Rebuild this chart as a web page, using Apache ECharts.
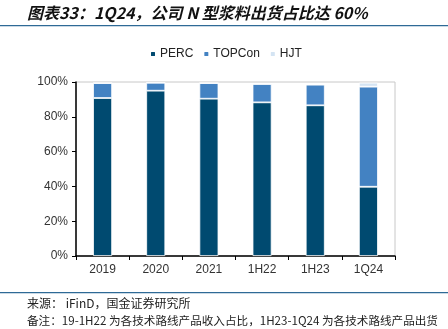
<!DOCTYPE html>
<html><head><meta charset="utf-8">
<script src="https://cdn.jsdelivr.net/npm/echarts@6/dist/echarts.min.js"></script>
<style>html,body{margin:0;padding:0;background:#fff}#c{width:448px;height:329px}</style>
</head><body><div id="c"></div>
<script>
const categories = ['2019','2020','2021','1H22','1H23','1Q24'];
const perc = [90.8, 95.0, 90.4, 88.3, 86.6, 39.8];
const topcon = [8.6, 4.6, 9.0, 10.6, 11.9, 57.5];
const hjt = [0, 0, 0, 0, 0, 2.3];
const yTicks = [0, 20, 40, 60, 80, 100];

const chart = echarts.init(document.getElementById('c'), null, {renderer:'canvas'});
const lab = {fontFamily:'Liberation Sans, Arial, sans-serif', fontSize:12, color:'#333'};
chart.setOption({
  animation:false,
  grid:{left:76, right:53, top:82, bottom:73, show:true, borderColor:'#c8c8c8', borderWidth:1},
  legend:{top:43, left:144, itemWidth:6, itemHeight:6, itemGap:9,
    textStyle:{fontFamily:'Liberation Sans, Arial, sans-serif', fontSize:12, color:'#222', padding:[0,0,0,-1]},
    data:['PERC','TOPCon','HJT']},
  xAxis:{type:'category', data:categories,
    axisLine:{lineStyle:{color:'#000', width:1.5}},
    axisTick:{show:true, length:4, lineStyle:{color:'#000'}, alignWithLabel:false},
    axisLabel:Object.assign({margin:8}, lab)},
  yAxis:{type:'value', min:0, max:100, interval:20,
    axisLine:{show:true, lineStyle:{color:'#000', width:1.5}},
    axisTick:{show:true, length:4, lineStyle:{color:'#000'}},
    splitLine:{show:false},
    axisLabel:Object.assign({margin:8, formatter:v=> yTicks.includes(v)? v+'%':''}, lab)},
  series:[
    {name:'PERC', type:'bar', stack:'a', data:perc, barWidth:19, itemStyle:{color:'#004a70', borderColor:'#fff', borderWidth:0.8}},
    {name:'TOPCon', type:'bar', stack:'a', data:topcon, barWidth:19, itemStyle:{color:'#4382c2', borderColor:'#fff', borderWidth:0.8}},
    {name:'HJT', type:'bar', stack:'a', data:hjt, barWidth:19, itemStyle:{color:'#d4e4f3', borderColor:'#fff', borderWidth:0.8}}
  ],
  graphic:[
    {type:'text', left:27, top:5, style:{text:'图表33：1Q24，公司 N 型浆料出货占比达 60%', font:'italic bold 16px "Noto Sans CJK SC", sans-serif', fill:'#111'}},
    {type:'rect', shape:{x:0, y:25, width:448, height:1.2}, style:{fill:'#2e6a96'}},
    {type:'rect', shape:{x:0, y:292, width:448, height:1.2}, style:{fill:'#2e6a96'}},
    {type:'text', left:27, top:297, style:{text:'来源： iFinD，国金证券研究所', font:'12px "Noto Sans CJK SC", sans-serif', fill:'#222'}},
    {type:'text', left:27, top:315, style:{text:'备注：19-1H22 为各技术路线产品收入占比，1H23-1Q24 为各技术路线产品出货', font:'11.6px "Noto Sans CJK SC", sans-serif', fill:'#222'}}
  ]
});
</script></body></html>
